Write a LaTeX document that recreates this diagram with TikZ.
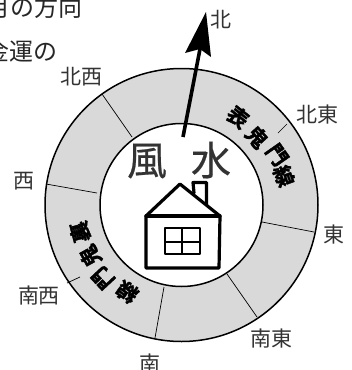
\documentclass[tikz,border=0pt]{standalone}
\usepackage{fontspec}
\setmainfont{Noto Sans CJK JP}
\newfontfamily\jpbold[FakeBold=1.8]{Noto Sans CJK JP Bold}
\newfontfamily\jpmed[FakeBold=0.5]{Noto Sans CJK JP}
\tikzset{
  lbl/.style={font=\fontsize{21}{21}\selectfont,text=black!80,inner sep=0pt},
  toptext/.style={font=\fontsize{24}{24}\selectfont,text=black!85,inner sep=0pt},
  bigchar/.style={font=\jpmed\fontsize{40}{40}\selectfont,text=black!80,inner sep=0pt},
  divider/.style={line width=0.7pt},
  ringline/.style={line width=1.5pt},
  house/.style={line width=3.2pt,line join=round,line cap=round},
  win/.style={line width=2.5pt,line join=round},
  band/.style={font=\jpbold\fontsize{21}{21}\selectfont,inner sep=0pt}
}
\begin{document}
\begin{tikzpicture}[x=1pt,y=-1pt,every node/.style={anchor=center}]
\useasboundingbox (0,0) rectangle (352,370);
\clip (0,0) rectangle (352,370);
\coordinate (c) at (181.5,205);
\fill[black!15] (c) circle (136.5);
\fill[white] (c) circle (81.5);
\draw[ringline] (c) circle (136.5);
\draw[ringline] (c) circle (81.5);
% dividers
\coordinate (nwa) at (102,94); \coordinate (nwb) at (132,137);
\draw[divider] (nwa) -- (nwb);
\coordinate (wa) at (46,184); \coordinate (wb) at (97,193);
\draw[divider] (wa) -- (wb);
\coordinate (swa) at (67,283); \coordinate (swb) at (80,277);
\draw[divider] (swa) -- (swb);
\coordinate (sa) at (155,338); \coordinate (sb) at (164,287);
\draw[divider] (sa) -- (sb);
\coordinate (sea) at (257,317); \coordinate (seb) at (227,274);
\draw[divider] (sea) -- (seb);
\coordinate (ea) at (314,232); \coordinate (eb) at (262,222);
\draw[divider] (ea) -- (eb);
\coordinate (nea) at (287,124); \coordinate (neb) at (278,133);
\draw[divider] (nea) -- (neb);
% north arrow
\coordinate (as) at (183,137); \coordinate (ab) at (200,49); \coordinate (at) at (206,12);
\coordinate (hl) at (185,53); \coordinate (hr) at (211,57);
\draw[line width=3.6pt] (as) -- (ab);
\fill (at) -- (hr) -- (ab) -- (hl) -- cycle;
% labels
\node[lbl] (n) at (221,20) {北};
\node[lbl] (ne) at (317,115) {北東};
\node[lbl] (e) at (334,235) {東};
\node[lbl] (se) at (271,339) {南東};
\node[lbl] (s) at (150,364) {南};
\node[lbl] (sw) at (39,296) {南西};
\node[lbl] (w) at (24,181) {西};
\node[lbl] (nw) at (81,77) {北西};
\node[toptext] (t1) at (35,7) {月の方向};
\node[toptext] (t2) at (22,51) {金運の};
\node[bigchar] (f) at (147,161) {風};
\node[bigchar] (m) at (211,160) {水};
% bands
\node[band,rotate=-38] (b1) at (238,117) {表};
\node[band,rotate=-48] (b2) at (257,137) {鬼};
\node[band,rotate=-55] (b3) at (277,155) {門};
\node[band,rotate=-70] (b4) at (284,176) {線};
\node[band,rotate=105] (c1) at (80,232) {裏};
\node[band,rotate=119] (c2) at (90,256) {鬼};
\node[band,rotate=133] (c3) at (103,278) {門};
\node[band,rotate=145] (c4) at (127,292) {線};
% house
\coordinate (apex) at (180,184); \coordinate (el) at (146,216); \coordinate (er) at (220,216);
\coordinate (bl) at (146,268); \coordinate (br) at (219,268);
\draw[house] (bl) -- (el) -- (apex) -- (er) -- (br) -- cycle;
\draw[house] (el) -- (er);
\draw[house] (194,193) -- (193,182.5) -- (206.5,182.5) -- (206.5,205);
\coordinate (wtl) at (165,228); \coordinate (wbr) at (200,254);
\draw[win] (wtl) rectangle (wbr);
\draw[win] (182,228) -- (182,254);
\draw[win] (165,242) -- (200,242);
\end{tikzpicture}
\end{document}
